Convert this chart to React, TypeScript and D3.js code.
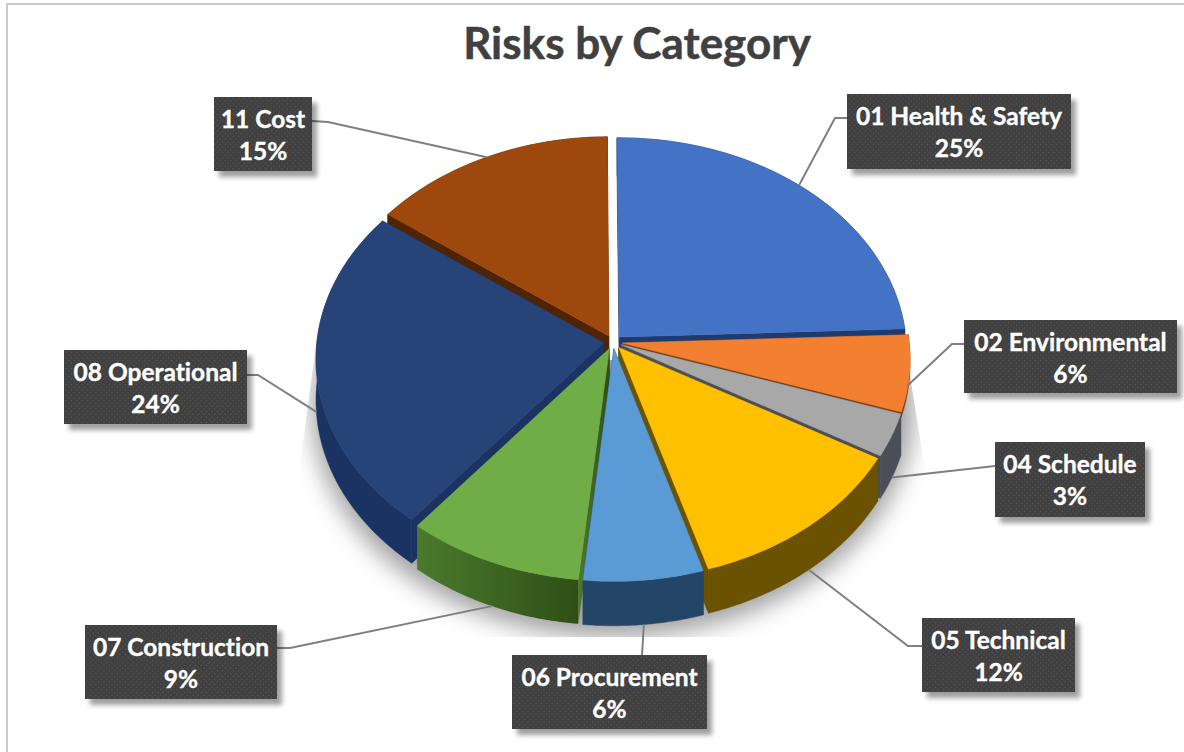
import React from "react";
import * as d3 from "d3";

const categories = ["01 Health & Safety", "02 Environmental", "04 Schedule", "05 Technical", "06 Procurement", "07 Construction", "08 Operational", "11 Cost"];
const shares = [24.5, 5.7, 3.2, 12.05, 6.25, 9.25, 24.25, 14.8];
const topColors = ["#4472C4", "#F28030", "#A8A8A8", "#FFC000", "#5B9BD5", "#70AD47", "#264478", "#9E480E"];
const wallColors = ["#1F3A6E", "#7A3F14", "#4A4E57", "#6B5200", "#234668", "url(#greenWall)", "#1B3362", "#4F2405"];
const wallScale = [1, 0.12, 1, 1, 1, 1, 1, 1];

const boxes: [number, number, number, number][] = [
  [847, 94, 224, 75], [964, 320, 213, 73], [995, 442, 150, 75], [922, 618, 153, 74],
  [512, 655, 195, 74], [85, 625, 192, 74], [64, 350, 183, 74], [214, 97, 98, 74],
];
const elbows: ([number, number] | null)[] = [
  [835, 118], [952, 344], null, [908, 646], null, [290, 648], [258, 375], [328, 122],
];
const docks: [number, number][] = [
  [847, 118], [964, 344], [995, 466], [922, 646], [642, 655], [277, 648], [247, 375], [312, 121],
];

const cx = 613, cy = 342, Rx = 287, Ry = 214.5, k = 0.073, explode = 0.032, D = 41;
const project = (u: number, v: number): [number, number] => {
  const w = 1 + k * v;
  return [cx + (Rx * u) / w, cy - (Ry * v) / w];
};
const depthAt = (v: number) => D / (1 + k * v);
const line = d3.line<[number, number]>().x(d => d[0]).y(d => d[1]);

const rot = (-0.4 * Math.PI) / 180;
const arcs = d3.pie<number>().sort(null).startAngle(rot).endAngle(rot + 2 * Math.PI)(shares);

type Slice = { i: number; top: string; walls: string[]; mid: number; sortY: number; leader: [number, number] };

const slices: Slice[] = arcs.map((a, i) => {
  const mid = (a.startAngle + a.endAngle) / 2;
  const ou = explode * Math.sin(mid), ov = explode * Math.cos(mid);
  const angles = d3.range(0, 41).map(t => a.startAngle + ((a.endAngle - a.startAngle) * t) / 40);
  const rimModel = angles.map(t => [Math.sin(t) + ou, Math.cos(t) + ov] as [number, number]);
  const rim = rimModel.map(([u, v]) => project(u, v));
  const rimLow = rimModel.map(([u, v]) => { const p = project(u, v); return [p[0], p[1] + depthAt(v) * wallScale[i]] as [number, number]; });
  const apex = project(ou, ov);
  const apexLow: [number, number] = [apex[0], apex[1] + depthAt(ov) * wallScale[i]];
  const walls = [
    line([apex, rim[0], rimLow[0], apexLow])! + "Z",
    line([apex, rim[40], rimLow[40], apexLow])! + "Z",
    line([...rim, ...rimLow.slice().reverse()])! + "Z",
  ];
  const lu = Math.sin(mid) * (1 + explode), lv = Math.cos(mid) * (1 + explode);
  const lp = project(lu, lv);
  const leader: [number, number] = lv < 0 ? [lp[0] - (i === 1 ? 2 : 0), lp[1] + depthAt(lv) * (i === 1 ? 0.3 : 1)] : [lp[0] - (i === 0 ? 8 : 0), lp[1] - (i === 0 ? 5 : 0)];
  return { i, top: line([apex, ...rim])! + "Z", walls, mid, sortY: project(ou * 6, ov * 6)[1], leader };
});
const painted = slices.slice().sort((a, b) => a.sortY - b.sortY);

const ground = d3.range(0, 91).map(t => {
  const a = (t / 90) * 2 * Math.PI;
  const v = Math.cos(a) * 1.045;
  const p = project(Math.sin(a) * 1.045, v);
  return [p[0], p[1] + depthAt(v) + 8] as [number, number];
});

const font = "Lato, Carlito, Calibri, sans-serif";

export default function App() {
  return (
    <svg width={1184} height={752} style={{ position: "absolute", left: 0, top: 0, background: "#fff", fontVariantLigatures: "none" }} fontFamily={font}>
      <defs>
        <pattern id="dots" width={5.4} height={5.4} patternUnits="userSpaceOnUse">
          <rect width={5.4} height={5.4} fill="#3f3f3f" />
          <circle cx={1.3} cy={1.3} r={0.8} fill="#565656" />
          <circle cx={4} cy={4} r={0.8} fill="#565656" />
        </pattern>
        <linearGradient id="greenWall" x1="0" y1="0" x2="1" y2="0">
          <stop offset="0" stopColor="#4A7A2C" />
          <stop offset="1" stopColor="#2F4F17" />
        </linearGradient>
        <filter id="boxShadow" x="-20%" y="-20%" width="140%" height="150%">
          <feDropShadow dx={5} dy={6} stdDeviation={2.5} floodColor="#000" floodOpacity={0.38} />
        </filter>
        <filter id="blur" x="-20%" y="-20%" width="140%" height="140%">
          <feGaussianBlur stdDeviation={12} />
        </filter>
        <clipPath id="groundClip">
          <path d="M316,345 L298,480 L298,637 L930,637 L925,470 L910,375 Z" />
        </clipPath>
      </defs>

      <rect x={7} y={4} width={1190} height={770} fill="#fff" stroke="#c9c9c9" strokeWidth={2} />

      <text x={637} y={59} textAnchor="middle" fontSize={44} fontWeight={700} fill="#404040" stroke="#404040" strokeWidth={0.5}>Risks by Category</text>

      <g clipPath="url(#groundClip)">
        <path d={line(ground)! + "Z"} fill="#777" opacity={0.7} filter="url(#blur)" />
      </g>

      {painted.map(s => (
        <g key={s.i}>
          {s.walls.map((d, j) => <path key={j} d={d} fill={wallColors[s.i]} stroke={s.i === 5 ? "none" : wallColors[s.i]} strokeWidth={0.5} />)}
          <path d={s.top} fill={topColors[s.i]} stroke={topColors[s.i]} strokeWidth={0.5} />
        </g>
      ))}

      {slices.map(s => {
        const e = elbows[s.i];
        const pts: [number, number][] = e ? [s.leader, e, docks[s.i]] : [s.leader, docks[s.i]];
        return <path key={s.i} d={line(pts)!} fill="none" stroke="#7f7f7f" strokeWidth={2} />;
      })}

      {categories.map((c, i) => {
        const [x, y, w, h] = boxes[i];
        return (
          <g key={c}>
            <rect x={x} y={y} width={w} height={h} fill="url(#dots)" filter="url(#boxShadow)" />
            <text x={x + w / 2} y={y + 30.5} textAnchor="middle" fontSize={24.5} fontWeight={700} fill="#fff" stroke="#fff" strokeWidth={0.35}>{c}</text>
            <text x={x + w / 2} y={y + 63} textAnchor="middle" fontSize={24.5} fontWeight={700} fill="#fff" stroke="#fff" strokeWidth={0.35}>{Math.round(shares[i])}%</text>
          </g>
        );
      })}
    </svg>
  );
}
